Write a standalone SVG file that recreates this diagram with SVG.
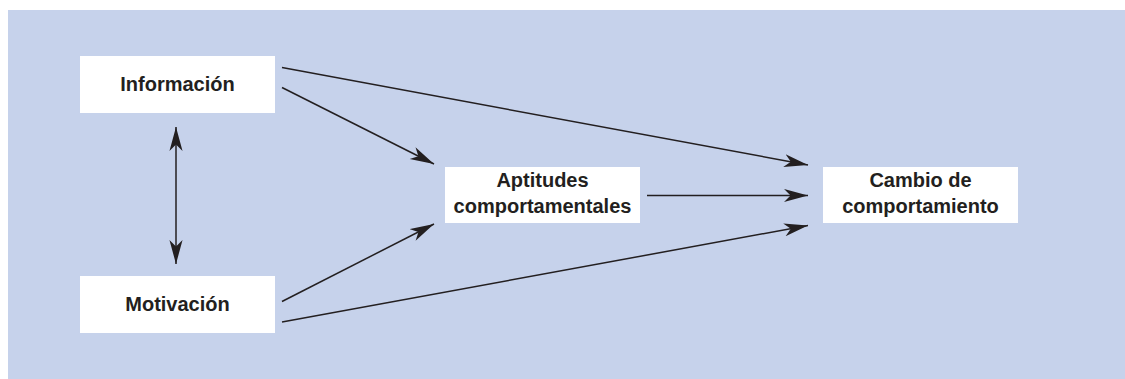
<svg xmlns="http://www.w3.org/2000/svg" width="1125" height="379" viewBox="0 0 1125 379">
  <style>
    .box { fill: #ffffff; }
    .lbl { font-family: "Liberation Sans", Arial, sans-serif; font-weight: bold; font-size: 20px; fill: #231f20; text-anchor: middle; }
    .conn { stroke: #231f20; stroke-width: 1.5; fill: none; }
  </style>
  <defs>
    <marker id="arr" markerUnits="userSpaceOnUse" markerWidth="24" markerHeight="14" viewBox="0 0 22 12" refX="22" refY="6" orient="auto-start-reverse">
      <path d="M0,0 L22,6 L0,12 L6,6 Z" fill="#231f20"/>
    </marker>
  </defs>
  <rect x="8" y="10" width="1117" height="369" fill="#c6d2eb"/>
  <g id="connectors">
    <line class="conn" x1="282" y1="67.5" x2="808" y2="165" marker-end="url(#arr)"/>
    <line class="conn" x1="282" y1="87.5" x2="434" y2="164" marker-end="url(#arr)"/>
    <line class="conn" x1="282" y1="301.5" x2="434" y2="224" marker-end="url(#arr)"/>
    <line class="conn" x1="282" y1="322" x2="808" y2="225.5" marker-end="url(#arr)"/>
    <line class="conn" x1="647" y1="195.5" x2="808" y2="195.5" marker-end="url(#arr)"/>
    <line class="conn" x1="176" y1="127" x2="176" y2="264" marker-start="url(#arr)" marker-end="url(#arr)"/>
  </g>
  <g id="informacion">
    <rect class="box" x="80" y="56" width="195" height="57"/>
    <text class="lbl" x="177.5" y="90.5">Información</text>
  </g>
  <g id="motivacion">
    <rect class="box" x="80" y="276" width="195" height="57"/>
    <text class="lbl" x="177.5" y="310.5">Motivación</text>
  </g>
  <g id="aptitudes">
    <rect class="box" x="445" y="167" width="195" height="56"/>
    <text class="lbl" x="542.5" y="187">Aptitudes</text>
    <text class="lbl" x="542.5" y="213">comportamentales</text>
  </g>
  <g id="cambio">
    <rect class="box" x="823" y="167" width="195" height="56"/>
    <text class="lbl" x="920.5" y="187">Cambio de</text>
    <text class="lbl" x="920.5" y="213">comportamiento</text>
  </g>
</svg>
